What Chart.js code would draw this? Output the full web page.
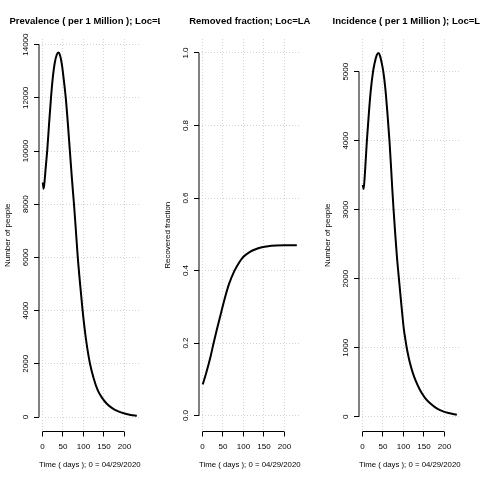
<!DOCTYPE html>
<html lang="en">
<head>
    <meta charset="UTF-8">
    <title>Prevalence, Removed fraction, Incidence - Loc=LA</title>
    <script src="https://cdn.jsdelivr.net/npm/chart.js@4.4.0/dist/chart.umd.js"></script>
    <style>
        html, body { margin: 0; padding: 0; background: #fff; }
        .row { display: flex; width: 480px; height: 480px; }
        canvas { display: block; }
    </style>
</head>
<body>
    <div class="row">
        <canvas id="prevChart" width="160" height="480"></canvas>
        <canvas id="remChart" width="160" height="480"></canvas>
        <canvas id="incChart" width="160" height="480"></canvas>
    </div>

    <script>
        // Time axis (days, 0 = 04/29/2020)
        const xTicks = [0, 50, 100, 150, 200];

        // Prevalence (per 1 million)
        const prevDays = [1, 3, 5, 8, 12, 16, 21, 25, 30, 35, 39, 43, 48, 52, 57, 62, 67, 72, 77, 81, 86, 92, 98, 106, 116, 125, 135, 145, 157, 170, 185, 200, 215, 230];
        const prevValues = [8820, 8580, 8800, 9350, 10050, 10950, 12000, 12700, 13300, 13620, 13700, 13600, 13200, 12700, 12000, 11050, 10000, 8950, 8000, 7150, 6050, 4980, 4000, 2950, 2000, 1450, 1000, 730, 500, 335, 210, 130, 75, 45];
        const prevTicks = [0, 2000, 4000, 6000, 8000, 10000, 12000, 14000];
        const prevTickLabels = ['0', '2000', '4000', '6000', '8000', '10000', '12000', '14000'];

        // Removed (recovered) fraction
        const remDays = [1, 10, 20, 27, 35, 47, 55, 65, 78, 90, 100, 115, 128, 145, 160, 180, 200, 230];
        const remValues = [0.086, 0.12, 0.163, 0.198, 0.236, 0.29, 0.325, 0.363, 0.399, 0.423, 0.438, 0.451, 0.458, 0.464, 0.467, 0.469, 0.470, 0.470];
        const remTicks = [0, 0.2, 0.4, 0.6, 0.8, 1.0];
        const remTickLabels = ['0.0', '0.2', '0.4', '0.6', '0.8', '1.0'];

        // Incidence (per 1 million)
        const incDays = [1, 3, 5, 8, 11, 15, 20, 26, 30, 35, 39, 43, 47, 51, 56, 61, 66, 70, 73, 76, 80, 84, 89, 95, 101, 105, 108, 112, 115, 122, 130, 140, 152, 165, 180, 195, 210, 230];
        const incValues = [3360, 3300, 3420, 3700, 4000, 4330, 4700, 5000, 5130, 5240, 5270, 5230, 5130, 5000, 4750, 4400, 4000, 3600, 3285, 3000, 2650, 2330, 2000, 1620, 1270, 1110, 1000, 880, 800, 650, 520, 392, 278, 194, 126, 82, 53, 28];
        const incTicks = [0, 1000, 2000, 3000, 4000, 5000];
        const incTickLabels = ['0', '1000', '2000', '3000', '4000', '5000'];

        const FONT = '"Liberation Sans", Arial, Helvetica, sans-serif';
        Chart.defaults.font.family = FONT;
        Chart.defaults.color = '#000';

        // R base-graphics look: title over the plot region, axis lines only
        // between first and last tick, y labels turned parallel to the axis
        const rStyle = {
            id: 'rStyle',
            afterDraw(chart, args, opts) {
                const { ctx, chartArea: a, scales: { x, y } } = chart;
                ctx.save();
                ctx.fillStyle = '#000';
                ctx.font = 'bold 9.5px ' + FONT;
                ctx.textAlign = 'center';
                ctx.textBaseline = 'alphabetic';
                ctx.fillText(opts.title, (a.left + a.right) / 2, 23.5);

                const xt = x.ticks, yt = y.ticks;
                ctx.strokeStyle = '#000';
                ctx.lineWidth = 1;
                ctx.beginPath();
                ctx.moveTo(x.getPixelForValue(xt[0].value), a.bottom);
                ctx.lineTo(x.getPixelForValue(xt[xt.length - 1].value), a.bottom);
                ctx.moveTo(a.left, y.getPixelForValue(yt[0].value));
                ctx.lineTo(a.left, y.getPixelForValue(yt[yt.length - 1].value));
                ctx.stroke();

                ctx.font = '8px ' + FONT;
                ctx.textBaseline = 'middle';
                opts.yLabels.forEach((lab, i) => {
                    ctx.save();
                    ctx.translate(25.5, y.getPixelForValue(yt[i].value));
                    ctx.rotate(-Math.PI / 2);
                    ctx.fillText(lab, 0, 0);
                    ctx.restore();
                });
                ctx.restore();
            }
        };

        function makeChart(id, days, values, yTicks, yLabels, yMin, yMax, title, yTitle) {
            const gridStyle = {
                color: '#d3d3d3',
                lineWidth: 1,
                tickLength: 5,
                tickColor: '#000',
                tickWidth: 1,
                tickBorderDash: []
            };
            new Chart(document.getElementById(id), {
                type: 'line',
                data: {
                    datasets: [{
                        data: days.map((d, i) => ({ x: d, y: values[i] })),
                        borderColor: '#000',
                        borderWidth: 2,
                        pointRadius: 0,
                        fill: false,
                        cubicInterpolationMode: 'monotone'
                    }]
                },
                options: {
                    responsive: false,
                    animation: false,
                    devicePixelRatio: 1,
                    layout: { padding: { top: 39, right: 19.4, left: 0, bottom: 0 } },
                    plugins: {
                        legend: { display: false },
                        tooltip: { enabled: false },
                        rStyle: { title: title, yLabels: yLabels }
                    },
                    scales: {
                        x: {
                            type: 'linear',
                            min: -8.2,
                            max: 239.2,
                            afterBuildTicks: s => { s.ticks = xTicks.map(v => ({ value: v })); },
                            afterFit: s => { s.height = 48.5; },
                            grid: gridStyle,
                            border: { display: false, dash: [1, 2] },
                            ticks: { font: { size: 8 }, padding: 5, maxRotation: 0, color: '#000' },
                            title: {
                                display: true,
                                text: 'Time ( days ); 0 = 04/29/2020',
                                font: { size: 8 },
                                padding: { top: 0, bottom: 10 }
                            }
                        },
                        y: {
                            min: yMin,
                            max: yMax,
                            afterBuildTicks: s => { s.ticks = yTicks.map(v => ({ value: v })); },
                            afterFit: s => { s.width = 39; },
                            grid: gridStyle,
                            border: { display: false, dash: [1, 2] },
                            ticks: { display: false },
                            title: {
                                display: true,
                                text: yTitle,
                                font: { size: 8 },
                                padding: { top: 3, bottom: 0 }
                            }
                        }
                    }
                },
                plugins: [rStyle]
            });
        }

        makeChart('prevChart', prevDays, prevValues, prevTicks, prevTickLabels, -545, 14211,
            'Prevalence ( per 1 Million ); Loc=LA', 'Number of people');
        makeChart('remChart', remDays, remValues, remTicks, remTickLabels, -0.044, 1.0386,
            'Removed fraction; Loc=LA', 'Recovered fraction');
        makeChart('incChart', incDays, incValues, incTicks, incTickLabels, -214, 5474,
            'Incidence ( per 1 Million ); Loc=LA', 'Number of people');
    </script>
</body>
</html>
